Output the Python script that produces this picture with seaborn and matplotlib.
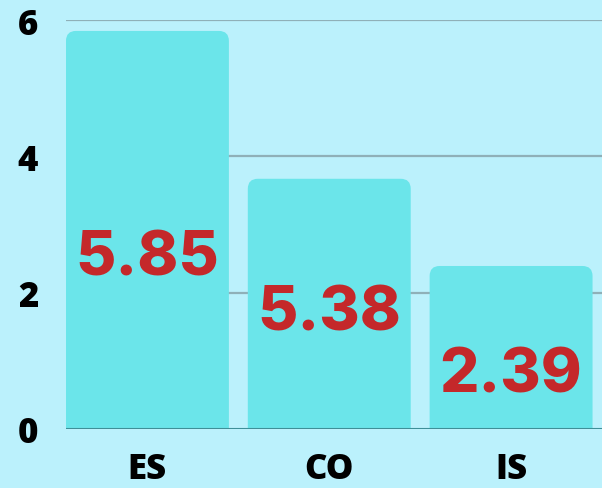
import pandas as pd
import seaborn as sns
import matplotlib.pyplot as plt
from matplotlib.patches import FancyBboxPatch

# === data ===
categories = ["ES", "CO", "IS"]
bar_values = [5.84, 3.67, 2.39]
value_labels = ["5.85", "5.38", "2.39"]

# vertical spot of each label inside its bar (layout only)
label_y = [2.50, 1.69, 0.78]

bg = "#bbf1fc"
bar_color = "#6be5ea"
red = "#c4282a"

df = pd.DataFrame({"cat": categories, "val": bar_values})

sns.set_theme(style="white")
plt.rcParams["font.family"] = ["Open Sans", "DejaVu Sans"]

fig = plt.figure(figsize=(6.02, 4.89), dpi=100, facecolor=bg)
ax = fig.add_axes([0.1096, 0.121, 0.8904, 0.836])
ax.set_facecolor(bg)

sns.barplot(data=df, x="cat", y="val", color=bar_color, width=0.896,
            saturation=1, ax=ax, zorder=2)

# swap plain bars for ones with rounded tops
rx = 0.055
ry = 0.147
for p in list(ax.patches):
    x, w, h = p.get_x(), p.get_width(), p.get_height()
    p.remove()
    box = FancyBboxPatch((x, -0.5), w, h + 0.5,
                         boxstyle=f"round,pad=0,rounding_size={rx}",
                         mutation_aspect=ry / rx,
                         facecolor=bar_color, edgecolor="none", zorder=2)
    ax.add_patch(box)

for i, lab in enumerate(value_labels):
    ax.text(i, label_y[i], lab, ha="center", va="center", color=red,
            fontsize=44.5, fontweight="heavy", family=["Inter", "DejaVu Sans"],
            zorder=4)

ax.set_xlim(-0.448, 2.5)
ax.set_ylim(0, 6)
ax.set_yticks([0, 2, 4, 6])
for y in [2, 4, 6]:
    ax.axhline(y, color="#8fb0b8", lw=1.6, zorder=1)
ax.axhline(0, color="#3f8f98", lw=1.5, zorder=3)

ax.set_xlabel("")
ax.set_ylabel("")
ax.tick_params(axis="both", length=0, labelsize=25, colors="black")
ax.tick_params(axis="y", pad=20)
ax.tick_params(axis="x", pad=16)
for t in ax.get_xticklabels() + ax.get_yticklabels():
    t.set_fontweight("heavy")
sns.despine(ax=ax, left=True, bottom=True)

fig.savefig("out.png", dpi=100, facecolor=bg)
